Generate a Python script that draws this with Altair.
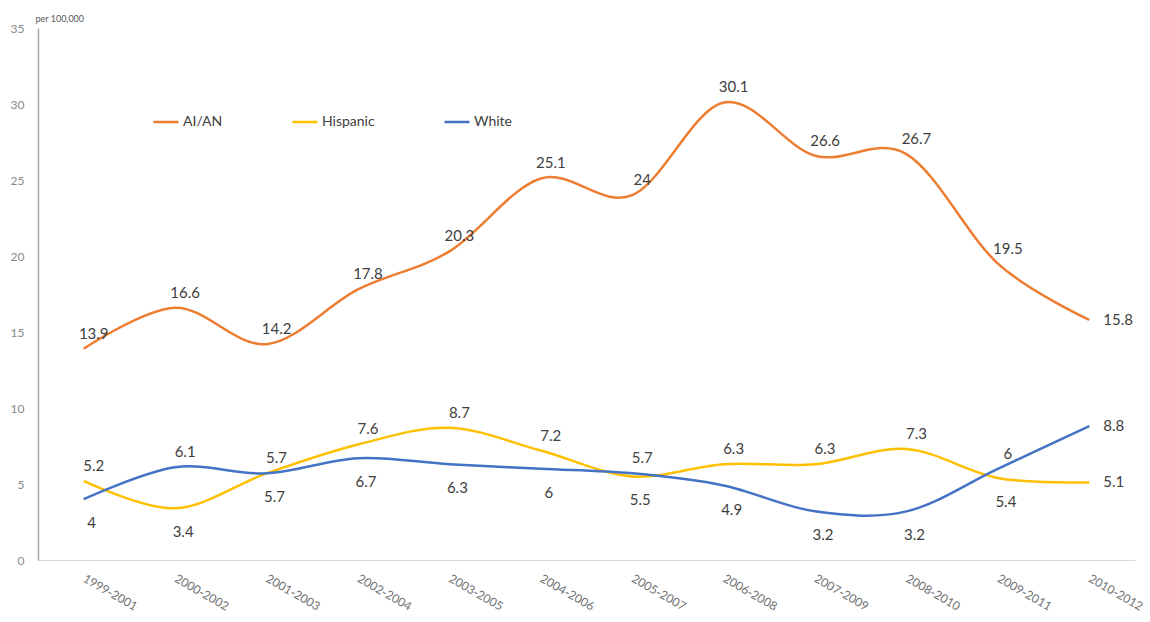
import altair as alt
import pandas as pd

PERIODS = ["1999-2001", "2000-2002", "2001-2003", "2002-2004", "2003-2005", "2004-2006",
           "2005-2007", "2006-2008", "2007-2009", "2008-2010", "2009-2011", "2010-2012"]
AIAN = [13.9, 16.6, 14.2, 17.8, 20.3, 25.1, 24, 30.1, 26.6, 26.7, 19.5, 15.8]
HISPANIC = [5.2, 3.4, 5.7, 7.6, 8.7, 7.2, 5.5, 6.3, 6.3, 7.3, 5.4, 5.1]
WHITE = [4, 6.1, 5.7, 6.7, 6.3, 6, 5.7, 4.9, 3.2, 3.2, 6, 8.8]
SERIES = ["AI/AN", "Hispanic", "White"]
COLORS = ["#ED7D31", "#FFC000", "#4472C4"]

rows = []
for s, vals in zip(SERIES, [AIAN, HISPANIC, WHITE]):
    for i, (p, v) in enumerate(zip(PERIODS, vals)):
        rows.append(dict(period=p, series=s, value=v, label=f"{v:g}", idx=i,
                         order=SERIES.index(s)))
df = pd.DataFrame(rows)

# label placement derived from data: higher values above, lowest below, last point right
place = []
for _, r in df.iterrows():
    grp = df[df.idx == r.idx].sort_values(["value", "order"], ascending=[False, True])
    rank = list(grp.series).index(r.series)
    if r.idx == len(PERIODS) - 1:
        place.append("right")
    elif rank < 2:
        place.append("above")
    else:
        place.append("below")
df["place"] = place

FONT = "Lato"

x = alt.X("period:N", sort=PERIODS, scale=alt.Scale(type="point", padding=0.5),
          axis=alt.Axis(title=None, labelAngle=30, labelAlign="left", labelBaseline="middle",
                        labelPadding=17, labelColor="#6f6f6f", labelFontSize=12, labelFont=FONT,
                        ticks=False, domainColor="#d9d9d9", domainWidth=1))
y = alt.Y("value:Q", scale=alt.Scale(domain=[0, 35]),
          axis=alt.Axis(values=[0, 5, 10, 15, 20, 25, 30, 35], grid=False, ticks=False,
                        labelColor="#8a8a8a", labelFontSize=12, labelFont=FONT, labelPadding=14,
                        domainColor="#a6a6a6", domainWidth=1.5,
                        title="per 100,000", titleAngle=0, titleX=-3, titleY=-10,
                        titleAlign="left", titleBaseline="middle", titleFontSize=9,
                        titleFontWeight="normal", titleColor="#595959", titleFont=FONT))
color = alt.Color("series:N", sort=SERIES,
                  scale=alt.Scale(domain=SERIES, range=COLORS),
                  legend=alt.Legend(title=None, orient="none", legendX=114, legendY=80,
                                    direction="horizontal", symbolType="stroke",
                                    symbolStrokeWidth=2.5, symbolSize=625,
                                    labelFontSize=14, labelColor="#404040", labelFont=FONT,
                                    columnPadding=64, labelOffset=3))

base = alt.Chart(df)
lines = base.mark_line(interpolate="cardinal", strokeWidth=2.5).encode(x=x, y=y, color=color)

txt_enc = dict(x=x, y=y, text="label:N")
tstyle = dict(font=FONT, fontSize=15, color="#404040")
above = base.transform_filter("datum.place == 'above'").mark_text(
    dx=10, dy=-15, **tstyle).encode(**txt_enc)
below = base.transform_filter("datum.place == 'below'").mark_text(
    dx=8, dy=24, **tstyle).encode(**txt_enc)
right = base.transform_filter("datum.place == 'right'").mark_text(
    dx=14, align="left", **tstyle).encode(**txt_enc)

chart = alt.layer(lines, above, below, right).properties(
    width=1097, height=532,
    autosize=alt.AutoSizeParams(type="none"),
    padding={"left": 38, "top": 28, "right": 15, "bottom": 62},
).configure(background="white").configure_view(stroke=None)

chart.save("out.html", embed_options={"renderer": "svg", "actions": False})
